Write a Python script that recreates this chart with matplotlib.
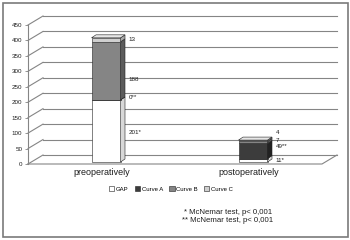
import matplotlib
matplotlib.use("Agg")
import matplotlib.pyplot as plt
from matplotlib.patches import Polygon, Rectangle
import numpy as np

plt.rcParams['font.family'] = ['Liberation Sans', 'DejaVu Sans']

# data
categories = ['preoperatively', 'postoperatively']
series = ['GAP', 'Curve A', 'Curve B', 'Curve C']
values = {
    'GAP': [201, 11],
    'Curve A': [0, 49],
    'Curve B': [188, 7],
    'Curve C': [13, 4],
}
labels = {
    'GAP': ['201*', '11*'],
    'Curve A': ['0**', '49**'],
    'Curve B': ['188', '7'],
    'Curve C': ['13', '4'],
}
yticks = [0, 50, 100, 150, 200, 250, 300, 350, 400, 450]
footnotes = ['* McNemar test, p< 0,001', '** McNemar test, p< 0,001']

# styles
face = {'GAP': '#ffffff', 'Curve A': '#3c3c3c', 'Curve B': '#858585', 'Curve C': '#cfcfcf'}
side = {'GAP': '#d8d8d8', 'Curve A': '#222222', 'Curve B': '#5c5c5c', 'Curve C': '#a8a8a8'}
top_col = {'GAP': '#ffffff', 'Curve A': '#666666', 'Curve B': '#a8a8a8', 'Curve C': '#e6e6e6'}
# label nudges in points (x, y)
nudge = {
    'GAP': [(0, -1), (0, 0)],
    'Curve A': [(0, 2), (0, 3)],
    'Curve B': [(0, -6), (0, 1)],
    'Curve C': [(0, 0), (0, 6)],
}
grid_c = '#858585'
txt_c = '#1e1e1e'

fig = plt.figure(figsize=(3.5, 2.4), dpi=100)
ax_w_px, ax_h_px = 294, 139
ax = fig.add_axes([28 / 350, (240 - 164) / 240, ax_w_px / 350, ax_h_px / 240])
xlo, xhi = -0.5, 1.5
ymax = 450
ax.set_xlim(xlo, xhi)
ax.set_ylim(0, ymax)

ux = (xhi - xlo) / ax_w_px   # data units per pixel
uy = ymax / ax_h_px

# wall depth offset
wdx, wdy = 15 * ux, 9 * uy
# bar front offset and bar depth
bdx, bdy = 4.5 * ux, 2 * uy
sdx, sdy = 4.5 * ux, 3 * uy
width = 29 * ux

# back wall gridlines + side wall diagonals
for v in yticks:
    ax.plot([xlo + wdx, xhi + wdx], [v + wdy, v + wdy], color=grid_c, lw=0.8, clip_on=False, zorder=1)
    ax.plot([xlo, xlo + wdx], [v, v + wdy], color=grid_c, lw=0.8, clip_on=False, zorder=1)
# floor
ax.plot([xlo, xhi, xhi + wdx], [0, 0, wdy], color=grid_c, lw=0.8, clip_on=False, zorder=1)

x = np.arange(len(categories)) + bdx
bottom = np.zeros(len(categories))
handles = []
for s in series:
    h = np.array(values[s], dtype=float)
    b = ax.bar(x, h, width=width, bottom=bottom + bdy, color=face[s],
               edgecolor='#202020', linewidth=0.4, zorder=3, label=s)
    handles.append(b)
    for i in range(len(categories)):
        xr = x[i] + width / 2
        y0 = bottom[i] + bdy
        y1 = y0 + h[i]
        ax.add_patch(Polygon([(xr, y0), (xr + sdx, y0 + sdy), (xr + sdx, y1 + sdy), (xr, y1)],
                             closed=True, facecolor=side[s], edgecolor='#202020',
                             linewidth=0.4, zorder=3, clip_on=False))
        ax.annotate(labels[s][i], (xr + sdx, (y0 + y1) / 2), xytext=(2.5 + nudge[s][i][0], nudge[s][i][1]),
                    textcoords='offset points', fontsize=4.5, va='center', ha='left',
                    color=txt_c, annotation_clip=False)
    bottom = bottom + h

# top faces
last = series[-1]
for i in range(len(categories)):
    xl = x[i] - width / 2
    xr = x[i] + width / 2
    yt = bottom[i] + bdy
    ax.add_patch(Polygon([(xl, yt), (xl + sdx, yt + sdy), (xr + sdx, yt + sdy), (xr, yt)],
                         closed=True, facecolor=top_col[last], edgecolor='#202020',
                         linewidth=0.4, zorder=3, clip_on=False))

for sp in ['top', 'right', 'bottom']:
    ax.spines[sp].set_visible(False)
ax.spines['left'].set_color(grid_c)
ax.spines['left'].set_linewidth(0.8)
ax.set_yticks(yticks)
ax.tick_params(axis='y', labelsize=4.5, length=2.5, width=0.6, color=grid_c, pad=1.5, labelcolor=txt_c)
ax.set_xticks(np.arange(len(categories)))
ax.set_xticklabels(categories, fontsize=6.5, color=txt_c)
ax.tick_params(axis='x', length=0, pad=3)
ax.patch.set_visible(False)

fig.legend(handles=handles, labels=series, loc='center', bbox_to_anchor=(171 / 350, (240 - 189) / 240),
           ncol=4, fontsize=4.3, frameon=False, handlelength=0.9, handleheight=0.9,
           handletextpad=0.3, columnspacing=1.0, borderpad=0)

fig.text(184 / 350, (240 - 212) / 240, footnotes[0], fontsize=5.6, va='center', ha='left', color=txt_c)
fig.text(182 / 350, (240 - 221) / 240, footnotes[1], fontsize=5.6, va='center', ha='left', color=txt_c)

fig.patches.append(Rectangle((3 / 350, 3 / 240), 345 / 350, 234 / 240, transform=fig.transFigure,
                             fill=False, edgecolor='#7a7a7a', linewidth=1.2))

fig.savefig('out.png', dpi=100)
